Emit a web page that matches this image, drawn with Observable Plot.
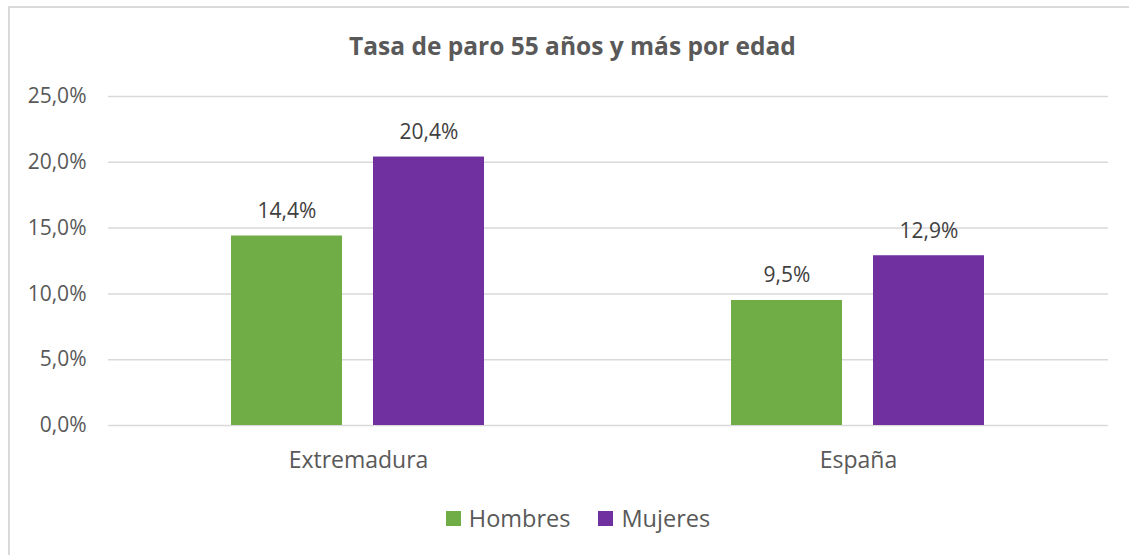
<!DOCTYPE html>
<html>
<head>
<meta charset="utf-8">
<script src="https://cdn.jsdelivr.net/npm/d3@7"></script>
<script src="https://cdn.jsdelivr.net/npm/@observablehq/plot@0.6"></script>
<style>
  html, body { margin: 0; padding: 0; background: #fff; overflow: hidden; }
  #frame { position: absolute; left: 8px; top: 6px; width: 1140px; height: 570px;
           border: 2px solid #d9d9d9; box-sizing: border-box; }
  #title { position: absolute; left: 0; top: 29px; width: 1145px; text-align: center;
           font-family: "Open Sans", sans-serif; font-weight: bold; font-size: 24.5px; color: #595959; }
  #chart { position: absolute; left: 0; top: 0; }
  #legend { position: absolute; left: 0; top: 502px; width: 1156px; display: flex; justify-content: center;
            font-family: "Open Sans", sans-serif; font-size: 23.5px; color: #595959; }
  .item { display: flex; align-items: center; margin: 0 14px; }
  .sw { width: 15px; height: 15px; margin-right: 8px; }
</style>
</head>
<body>
<div id="frame"></div>
<div id="chart"></div>
<div id="title">Tasa de paro 55 años y más por edad</div>
<div id="legend"></div>
<script>
const regions = ["Extremadura", "España"];
const sexes = ["Hombres", "Mujeres"];
const hombres = [14.4, 9.5];
const mujeres = [20.4, 12.9];
const colors = ["#70AD47", "#7030A0"];
const yTicks = [0, 5, 10, 15, 20, 25];

const data = [];
regions.forEach((r, i) => {
  data.push({region: r, sexo: sexes[0], value: hombres[i]});
  data.push({region: r, sexo: sexes[1], value: mujeres[i]});
});
const fmt = d => d.toFixed(1).replace(".", ",") + "%";

const plot = Plot.plot({
  width: 1129,
  height: 480,
  marginLeft: 108,
  marginRight: 21,
  marginTop: 96,
  marginBottom: 55,
  style: {fontFamily: "Open Sans, sans-serif", fontSize: "21px", color: "#595959", background: "transparent"},
  fx: {domain: regions, padding: 0, label: null, axis: null},
  x: {domain: sexes, paddingInner: 0.217, paddingOuter: 0.857, axis: null},
  y: {domain: [0, 25], ticks: yTicks, tickFormat: fmt, label: null, axis: null},
  color: {domain: sexes, range: colors},
  marks: [
    Plot.ruleY(yTicks, {stroke: "#d9d9d9", strokeWidth: 1.5, facet: "exclude"}),
    Plot.axisY(yTicks, {tickSize: 0, tickPadding: 22, tickFormat: fmt, fontSize: 21, label: null, fill: "#595959"}),
    Plot.axisFx({anchor: "bottom", tickSize: 0, tickPadding: 26, fontSize: 23, label: null, fill: "#595959"}),
    Plot.barY(data, {fx: "region", x: "sexo", y: "value", fill: "sexo"}),
    Plot.text(data, {fx: "region", x: "sexo", y: "value", text: d => fmt(d.value),
      lineAnchor: "bottom", dy: -18, fill: "#404040", fontSize: 21})
  ]
});
document.getElementById("chart").appendChild(plot);

const legend = document.getElementById("legend");
sexes.forEach((s, i) => {
  const it = document.createElement("div");
  it.className = "item";
  it.innerHTML = `<div class="sw" style="background:${colors[i]}"></div><span>${s}</span>`;
  legend.appendChild(it);
});
</script>
</body>
</html>
